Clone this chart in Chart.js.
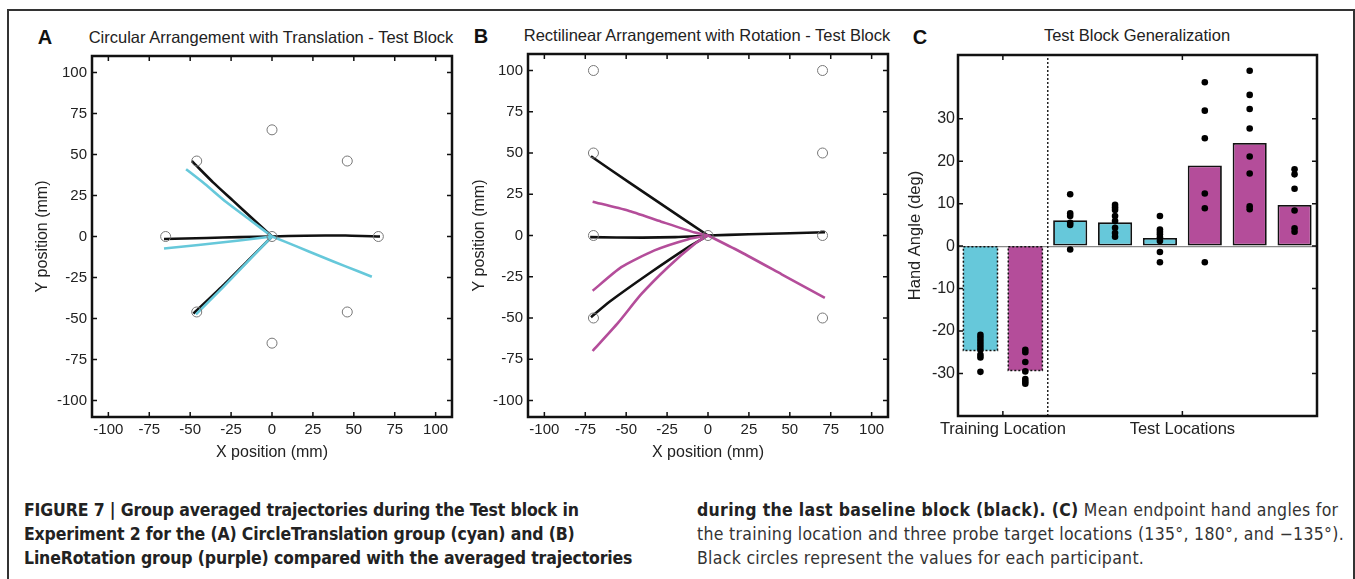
<!DOCTYPE html>
<html>
<head>
<meta charset="utf-8">
<script src="https://cdn.jsdelivr.net/npm/chart.js@4.4.1/dist/chart.umd.min.js"></script>
<style>
body { margin:0; background:#fff; width:1355px; height:579px; position:relative; overflow:hidden;
       font-family:"Liberation Sans", Arial, sans-serif; color:#222; }
.frame { position:absolute; left:7px; top:9px; width:1344px; height:620px; border:2px solid #333; border-bottom:none; }
canvas { position:absolute; }
.lbl { position:absolute; transform:translate(-50%,-50%); white-space:nowrap; }
.letter { font-weight:bold; font-size:20px; color:#111; }
.ttl { font-size:16.5px; }
.cap { position:absolute; font-family:"Liberation Sans Narrow","DejaVu Sans Condensed",sans-serif;
       font-size:17.5px; line-height:24px; color:#333; white-space:nowrap; }
.cap.l { letter-spacing:-0.15px; }
.cap.r { letter-spacing:0.3px; }
.cap b { color:#222; }
</style>
</head>
<body>
<div class="frame"></div>

<div class="lbl letter" style="left:45px;top:37px">A</div>
<div class="lbl ttl" style="left:271px;top:37px">Circular Arrangement with Translation - Test Block</div>
<div class="lbl letter" style="left:481px;top:36px">B</div>
<div class="lbl ttl" style="left:707px;top:35px">Rectilinear Arrangement with Rotation - Test Block</div>
<div class="lbl letter" style="left:920px;top:37px">C</div>
<div class="lbl ttl" style="left:1137px;top:35px">Test Block Generalization</div>

<canvas id="chartA" width="450" height="420" style="left:10px;top:48px"></canvas>
<canvas id="chartB" width="436" height="422" style="left:460px;top:46px"></canvas>
<canvas id="chartC" width="430" height="410" style="left:895px;top:47px"></canvas>

<div class="cap l" style="left:24px;top:498px"><b>FIGURE 7 | Group averaged trajectories during the Test block in<br>Experiment 2 for the (A) CircleTranslation group (cyan) and (B)<br>LineRotation group (purple) compared with the averaged trajectories</b></div>
<div class="cap r" style="left:697px;top:498px"><b>during the last baseline block (black). (C)</b> Mean endpoint hand angles for<br>the training location and three probe target locations (135°, 180°, and −135°).<br>Black circles represent the values for each participant.</div>

<script>
// ---- Panel A: circular arrangement, translation group (cyan) vs baseline (black)
const posTicks = [-100, -75, -50, -25, 0, 25, 50, 75, 100];

const targetsA = [[0, 65], [46, 46], [65, 0], [46, -46], [0, -65], [-46, -46], [-65, 0], [-46, 46], [0, 0]];

const baseA_ul = [[0, 0], [-12, 11], [-24, 22], [-36, 33], [-47, 44], [-49, 46]];
const baseA_l = [[0, 0], [-20, -0.4], [-40, -0.9], [-66, -1.5]];
const baseA_r = [[0, 0], [20, 0.5], [45, 0.6], [66, 0]];
const baseA_ll = [[0, 0], [-15, -15], [-30, -30], [-48, -47]];

const cyanA_ul = [[0, 0], [-14, 10.5], [-28, 21], [-41, 32], [-52.5, 41]];
const cyanA_l = [[0, 0], [-20, -2.4], [-45, -5.2], [-66, -7.3]];
const cyanA_r = [[0, 0], [15, -6], [30, -12.2], [45, -18.2], [61, -24.5]];
const cyanA_ll = [[0, 0], [-15, -15.5], [-30, -31], [-46.5, -47.5]];

// ---- Panel B: rectilinear arrangement, rotation group (purple) vs baseline (black)
const targetsB = [[-70, 100], [70, 100], [-70, 50], [70, 50], [-70, 0], [70, 0], [-70, -50], [70, -50], [0, 0]];

const baseB_ul = [[0, 0], [-24, 16], [-48, 32], [-71.5, 48]];
const baseB_l = [[0, 0], [-20, -1], [-40, -1.3], [-72, -1]];
const baseB_r = [[0, 0], [25, 0.8], [50, 1.4], [71.5, 2]];
const baseB_ll = [[0, 0], [-12, -7], [-36, -23], [-60, -40], [-71.5, -49.5]];

const purpleB_1 = [[0, 0], [-8, 1.8], [-28.6, 8.4], [-49, 15.1], [-70.5, 20.5]];
const purpleB_2 = [[0, 0], [-12, -2.2], [-32.7, -9], [-53, -19.2], [-70.5, -33.5]];
const purpleB_3 = [[0, 0], [-8, -5], [-24.5, -19.2], [-40.8, -35.6], [-55, -53], [-70.5, -70]];
const purpleB_4 = [[0, 0], [20, -10], [45, -23.5], [71.4, -37.8]];

// ---- Panel C: generalization bars
const groupsC = ['Training Location', 'Test Locations'];
const groupPosC = [0.5, 4.5];
const splitC = 1.5;
const meanC = [-24.6, -29.3, 6.1, 5.6, 1.9, 19.0, 24.3, 9.7];
const dotsC = [
    [-20.9, -21.6, -22.3, -23.0, -23.7, -24.4, -25.6, -26.2, -29.6],
    [-24.4, -25.0, -27.3, -29.5, -31.3, -31.9, -32.4],
    [12.2, 7.7, 7.1, 5.5, 5.0, -0.8],
    [9.7, 9.1, 8.5, 7.1, 5.9, 4.3, 3.1, 2.2],
    [7.1, 3.9, 3.3, 2.8, 2.1, 1.2, -1.4, -3.8],
    [38.6, 31.9, 25.4, 12.4, 8.9, -3.8],
    [41.3, 35.6, 32.3, 27.7, 21.1, 17.1, 9.4, 8.7],
    [18.1, 16.9, 13.5, 8.4, 4.2, 3.4]
];
const yTicksC = [-30, -20, -10, 0, 10, 20, 30];

const CYAN = '#66c8da';
const PURPLE = '#b44d9a';
const barColorsC = [CYAN, PURPLE, CYAN, CYAN, CYAN, PURPLE, PURPLE, PURPLE];

Chart.defaults.font.family = '"Liberation Sans", Arial, sans-serif';
Chart.defaults.color = '#222';
Chart.defaults.animation = false;

const pts = arr => arr.map(([x, y]) => ({x, y}));

// fixed axis sizes so the plot boxes land where they should
const fixW = w => s => { s.width = w; s.paddingTop = 0; s.paddingBottom = 0; };
const fixH = h => s => { s.height = h; s.paddingLeft = 0; s.paddingRight = 0; };

// matlab style box with inward ticks on all four sides
const boxTicks = {
    id: 'boxTicks',
    afterDraw(chart) {
        const {ctx, chartArea: a, scales} = chart;
        const len = 5;
        ctx.save();
        ctx.strokeStyle = '#111';
        ctx.lineWidth = 1.5;
        ctx.beginPath();
        scales.x.ticks.forEach(t => {
            const px = scales.x.getPixelForValue(t.value);
            ctx.moveTo(px, a.bottom); ctx.lineTo(px, a.bottom - len);
            ctx.moveTo(px, a.top); ctx.lineTo(px, a.top + len);
        });
        scales.y.ticks.forEach(t => {
            const py = scales.y.getPixelForValue(t.value);
            ctx.moveTo(a.left, py); ctx.lineTo(a.left + len, py);
            ctx.moveTo(a.right, py); ctx.lineTo(a.right - len, py);
        });
        ctx.stroke();
        ctx.lineWidth = 2.5;
        ctx.strokeRect(a.left, a.top, a.width, a.height);
        ctx.restore();
    }
};

function lineSet(data, color) {
    return {
        type: 'scatter', data: pts(data), showLine: true, borderColor: color,
        borderWidth: 2.6, pointRadius: 0, tension: 0.2, fill: false
    };
}

function trajChart(id, targets, front, back, yWidth, yTitlePad, xHeight, padTop) {
    const datasets = [{
        type: 'scatter', data: pts(targets), pointRadius: 5, pointBorderWidth: 1,
        pointBorderColor: '#777', pointBackgroundColor: 'rgba(0,0,0,0)'
    }];
    front.forEach(l => datasets.push(lineSet(l, front.color)));
    back.forEach(l => datasets.push(lineSet(l, '#111')));
    return new Chart(document.getElementById(id), {
        type: 'scatter',
        data: {datasets},
        options: {
            responsive: false,
            layout: {padding: {top: padTop, right: 8, left: 0, bottom: 0}},
            plugins: {legend: {display: false}, tooltip: {enabled: false}},
            scales: {
                x: {
                    type: 'linear', min: -110, max: 110,
                    afterBuildTicks: s => { s.ticks = posTicks.map(v => ({value: v})); },
                    afterFit: fixH(xHeight),
                    grid: {display: false, drawTicks: false},
                    border: {display: false},
                    ticks: {padding: 4, font: {size: 15}, maxRotation: 0},
                    title: {display: true, text: 'X position (mm)', font: {size: 16}, padding: {top: 0, bottom: 6}}
                },
                y: {
                    type: 'linear', min: -110, max: 110,
                    afterBuildTicks: s => { s.ticks = posTicks.map(v => ({value: v})); },
                    afterFit: fixW(yWidth),
                    grid: {display: false, drawTicks: false},
                    border: {display: false},
                    ticks: {padding: 5, font: {size: 15}},
                    title: {display: true, text: 'Y position (mm)', font: {size: 16}, padding: {top: yTitlePad, bottom: 0}}
                }
            }
        },
        plugins: [boxTicks]
    });
}

const cyanLines = [cyanA_ul, cyanA_l, cyanA_r, cyanA_ll];
cyanLines.color = CYAN;
trajChart('chartA', targetsA, cyanLines, [baseA_ul, baseA_l, baseA_r, baseA_ll], 82, 23, 51, 8);

const purpleLines = [purpleB_1, purpleB_2, purpleB_3, purpleB_4];
purpleLines.color = PURPLE;
trajChart('chartB', targetsB, purpleLines, [baseB_ul, baseB_l, baseB_r, baseB_ll], 68, 10, 51, 8);

// dashed outline for the training location bars
const dashedBars = {
    id: 'dashedBars',
    afterDatasetDraw(chart, args) {
        if (args.meta.type !== 'bar') return;
        const ctx = chart.ctx;
        ctx.save();
        ctx.strokeStyle = '#111';
        ctx.lineWidth = 1.5;
        ctx.setLineDash([2, 2]);
        args.meta.data.slice(0, 2).forEach(bar => {
            const {x, y, base, width} = bar.getProps(['x', 'y', 'base', 'width']);
            ctx.strokeRect(x - width / 2, Math.min(y, base), width, Math.abs(base - y));
        });
        ctx.restore();
    }
};

const dotData = [];
dotsC.forEach((vals, i) => vals.forEach(v => dotData.push({x: i, y: v})));

new Chart(document.getElementById('chartC'), {
    type: 'bar',
    data: {
        datasets: [
            {
                type: 'scatter', data: dotData, pointRadius: 3.3,
                pointBackgroundColor: '#000', pointBorderWidth: 0
            },
            {
                type: 'bar', data: meanC.map((v, i) => ({x: i, y: v})),
                backgroundColor: barColorsC,
                borderColor: '#111',
                borderWidth: meanC.map((v, i) => i < 2 ? 0 : 1.8),
                borderSkipped: false,
                barPercentage: 0.76, categoryPercentage: 1
            },
            {
                type: 'line', data: [{x: splitC, y: -40}, {x: splitC, y: 45}],
                borderColor: '#222', borderWidth: 1.5, borderDash: [2, 2], pointRadius: 0
            }
        ]
    },
    options: {
        responsive: false,
        layout: {padding: {top: 8, right: 8, left: 0, bottom: 0}},
        plugins: {legend: {display: false}, tooltip: {enabled: false}},
        scales: {
            x: {
                type: 'linear', min: -0.5, max: 7.5, offset: false,
                afterBuildTicks: s => { s.ticks = groupPosC.map(v => ({value: v})); },
                afterFit: fixH(41),
                grid: {display: false, drawTicks: false, offset: false},
                border: {display: false},
                ticks: {
                    padding: 4, font: {size: 16.5}, maxRotation: 0, autoSkip: false,
                    callback: v => groupsC[groupPosC.indexOf(v)]
                }
            },
            y: {
                type: 'linear', min: -40, max: 45,
                afterBuildTicks: s => { s.ticks = yTicksC.map(v => ({value: v})); },
                afterFit: fixW(63),
                grid: {
                    drawTicks: false,
                    color: c => c.tick && c.tick.value === 0 ? '#888' : 'rgba(0,0,0,0)',
                    lineWidth: 1.2
                },
                border: {display: false},
                ticks: {padding: 3, font: {size: 16}},
                title: {display: true, text: 'Hand Angle (deg)', font: {size: 16.5}, padding: {top: 11, bottom: 0}}
            }
        }
    },
    plugins: [boxTicks, dashedBars]
});
</script>
</body>
</html>
